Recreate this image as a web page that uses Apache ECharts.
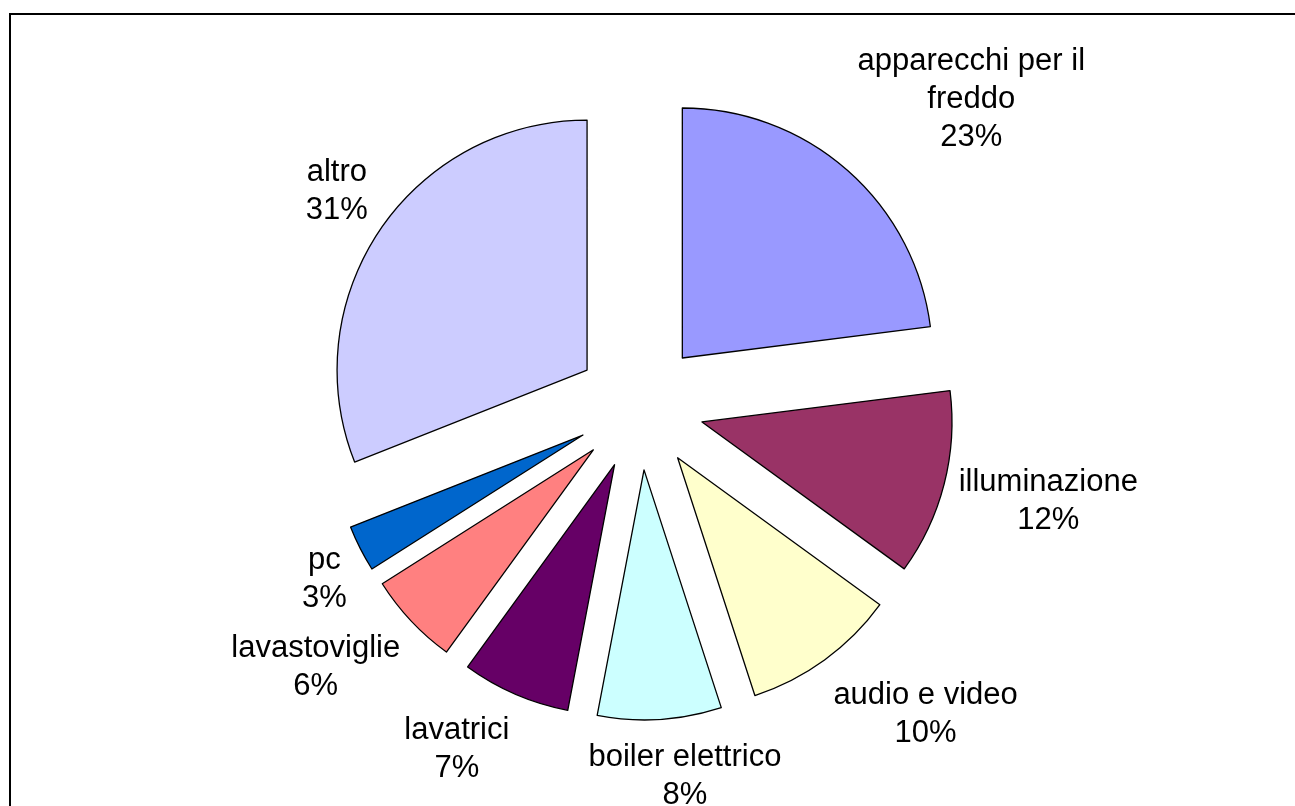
<!DOCTYPE html>
<html><head><meta charset="utf-8">
<script src="https://cdn.jsdelivr.net/npm/echarts@6/dist/echarts.min.js"></script>
<style>html,body{margin:0;padding:0;background:#fff}#c{width:1295px;height:806px}</style>
</head><body><div id="c"></div>
<script>
const categories = ['apparecchi per il freddo','illuminazione','audio e video','boiler elettrico','lavatrici','lavastoviglie','pc','altro'];
const shares = [23,12,10,8,7,6,3,31];
const colors = ['#9999FF','#993366','#FFFFCC','#CCFFFF','#660066','#FF8080','#0066CC','#CCCCFF'];

const CX = 640, CY = 406, R = 250, OFF = 64, GAP = 15;
const FONT_SIZE = 31, LINE_H = 38, FONT_FAMILY = '"Liberation Sans", Arial, sans-serif';
const total = shares.reduce((a, b) => a + b, 0);
const mids = []; let acc = 0;
shares.forEach(v => { mids.push((acc + v / 2) / total * 2 * Math.PI); acc += v; });

function wrap(s, n) {
  const words = s.split(' '); const lines = []; let cur = '';
  words.forEach(w => {
    if (cur && (cur + ' ' + w).length > n) { lines.push(cur); cur = w; }
    else cur = cur ? cur + ' ' + w : w;
  });
  if (cur) lines.push(cur);
  return lines.join('\n');
}
function labelText(i) {
  return wrap(categories[i], 17) + '\n' + Math.round(shares[i] / total * 100) + '%';
}
const mctx = document.createElement('canvas').getContext('2d');
mctx.font = FONT_SIZE + 'px ' + FONT_FAMILY;
function measure(txt) {
  const lines = txt.split('\n');
  return {w: Math.max(...lines.map(l => mctx.measureText(l).width)), h: lines.length * LINE_H};
}
const clamp = (v, lim) => Math.max(-lim, Math.min(lim, v));

const base = {
  type: 'pie', center: [CX, CY], radius: R, startAngle: 90, clockwise: true,
  avoidLabelOverlap: false, percentPrecision: 0, animation: false
};

const chart = echarts.init(document.getElementById('c'), null, {renderer: 'canvas'});
chart.setOption({
  animation: false,
  graphic: [{type: 'polyline', silent: true, shape: {points: [[10, 1000], [10, 14], [1300, 14]]}, style: {stroke: '#000', lineWidth: 2, fill: null}}],
  series: [
    Object.assign({}, base, {
      selectedMode: 'multiple', selectedOffset: OFF,
      itemStyle: {borderColor: '#000', borderWidth: 1.3},
      select: {itemStyle: {borderColor: '#000', borderWidth: 1.3}},
      emphasis: {disabled: true},
      label: {show: false}, labelLine: {show: false},
      data: categories.map((n, i) => ({name: n, value: shares[i], selected: true, itemStyle: {color: colors[i]}}))
    }),
    Object.assign({}, base, {
      silent: true, selectedMode: false,
      itemStyle: {color: 'rgba(0,0,0,0)', borderWidth: 0},
      emphasis: {disabled: true},
      label: {
        show: true, position: 'outside', color: '#000',
        fontFamily: FONT_FAMILY, fontSize: FONT_SIZE, lineHeight: LINE_H,
        formatter: p => labelText(p.dataIndex)
      },
      labelLine: {show: false},
      labelLayout: p => {
        const i = p.dataIndex, a = mids[i];
        const ux = Math.sin(a), uy = -Math.cos(a);
        const m = measure(labelText(i));
        return {
          x: CX + ux * (OFF + R + GAP) + clamp(4 * ux, 1) * m.w / 2,
          y: CY + uy * (OFF + R + GAP) + clamp(1.4 * uy, 1.1) * m.h / 2,
          align: 'center', verticalAlign: 'middle'
        };
      },
      data: categories.map((n, i) => ({name: n, value: shares[i]}))
    })
  ]
});
</script></body></html>
